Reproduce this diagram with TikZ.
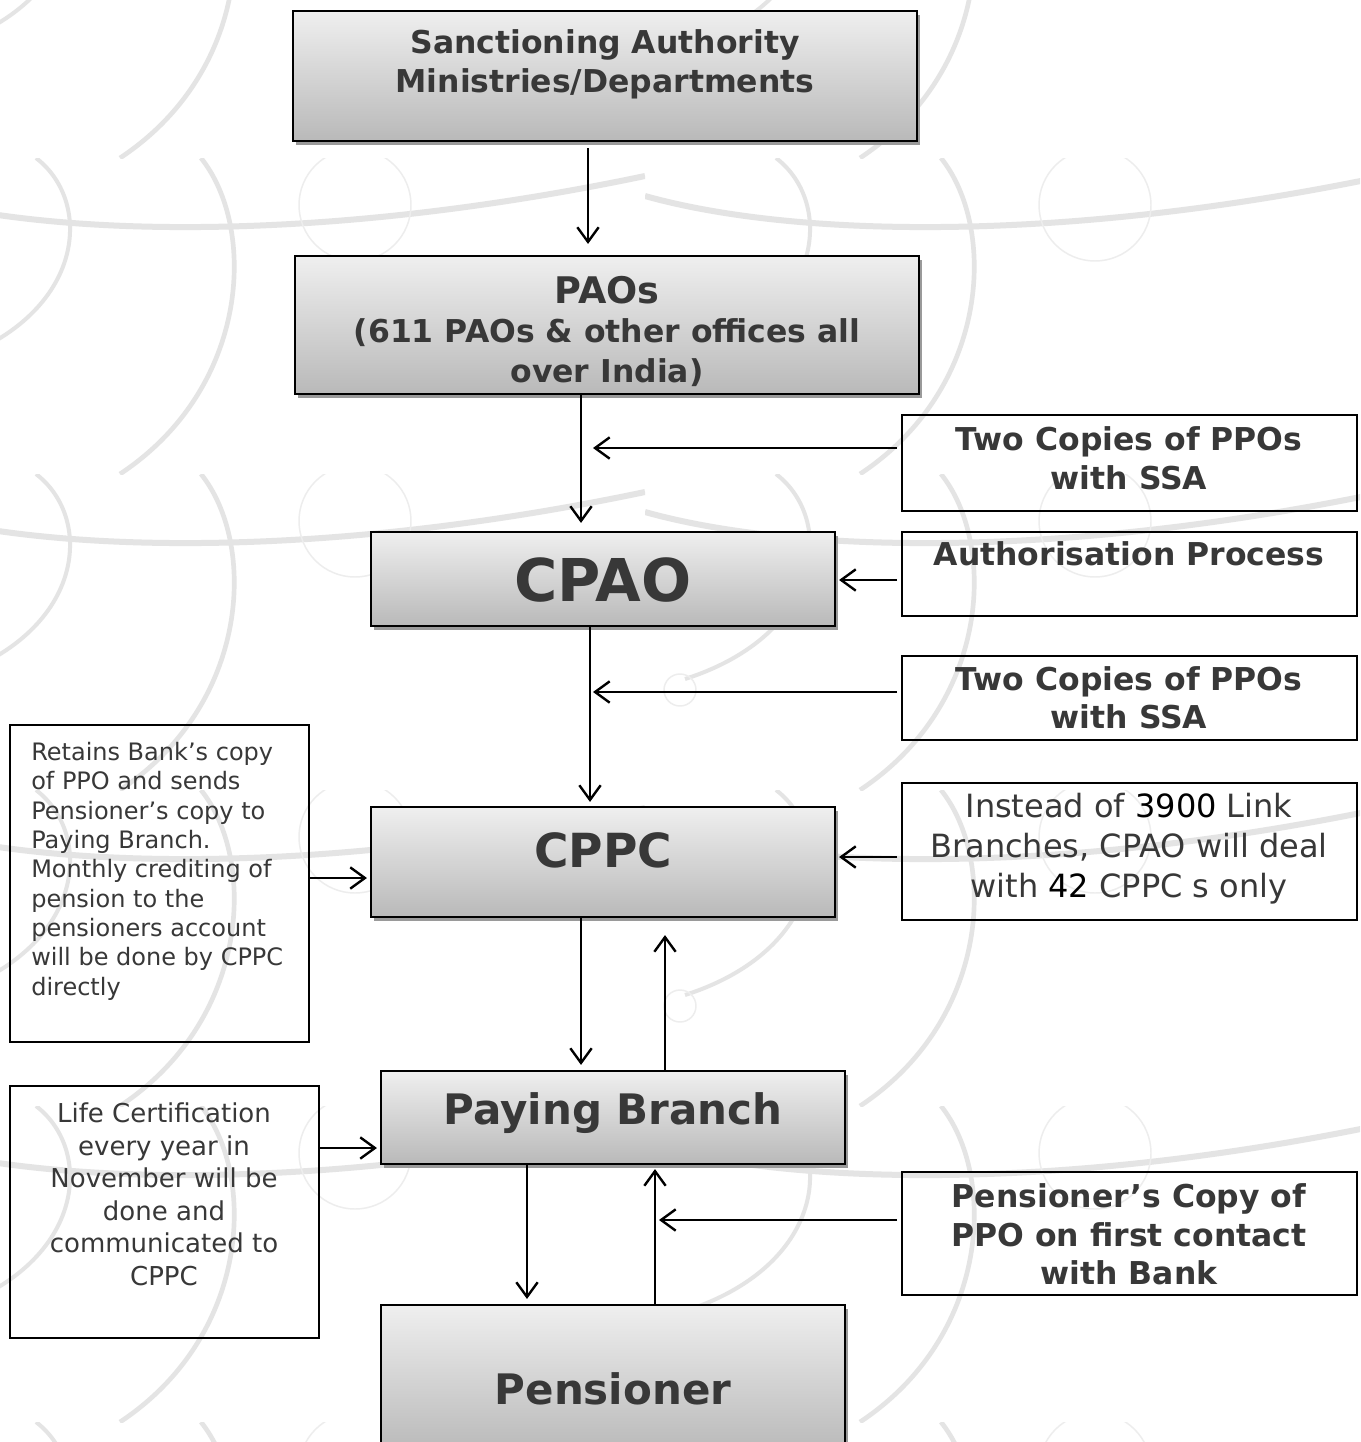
\documentclass[tikz,border=0pt]{standalone}
\usepackage{fontspec}
\setmainfont{DejaVu Sans}
\usetikzlibrary{arrows.meta,shadows,fit}
\definecolor{txt}{HTML}{383838}
\definecolor{bgl}{HTML}{E4E4E4}
\definecolor{bgs}{HTML}{EDEDED}
\definecolor{boxtop}{HTML}{EFEFEF}
\definecolor{boxbot}{HTML}{B9B9B9}
\definecolor{shad}{HTML}{9A9A9A}
\newcommand{\bgtile}{%
  \draw[bgl, line width=4.5pt] (0,38) .. controls (150,80) and (420,85) .. (740,18);
  \draw[bgl, line width=3.5pt] (296,0) .. controls (352,70) and (345,230) .. (215,316);
  \draw[bgl, line width=3pt] (131,0) .. controls (190,45) and (180,160) .. (40,205);
  \draw[bgs, line width=1.1pt] (450,47) circle[radius=56];
  \draw[bgs, line width=1.1pt] (35,216) circle[radius=16];
}
\begin{document}
\begin{tikzpicture}[x=0.75pt,y=-0.75pt,
  mainbox/.style={draw=black, line width=1.6pt, top color=boxtop, bottom color=boxbot,
    drop shadow={shadow xshift=2.4pt, shadow yshift=-3pt, fill=shad, opacity=1}, inner sep=0pt},
  sidebox/.style={draw=black, line width=1.2pt, inner sep=0pt},
  bt/.style={text=txt, inner sep=0pt},
  arr/.style={line width=1.8pt, -{Straight Barb[length=11pt,width=16pt]}},
]
\useasboundingbox (0,0) rectangle (1360,1442);
\fill[white] (0,0) rectangle (1360,1442);
% background watermark
\begin{scope}
\clip (0,0) rectangle (1360,1442);
\foreach \ox in {-95,645} {
  \foreach \oy in {-158,158,474,790,1106,1422} {
    \begin{scope}[shift={(\ox,\oy)}]
      \clip (0,0) rectangle (740,316);
      \bgtile
    \end{scope}
  }
}
\end{scope}

% main boxes
\node[mainbox, fit={(293,11) (917,141)}] (sa) {};
\node[mainbox, fit={(295,256) (919,394)}] (pao) {};
\node[mainbox, fit={(371,532) (835,626)}] (cpao) {};
\node[mainbox, fit={(371,807) (835,917)}] (cppc) {};
\node[mainbox, fit={(381,1071) (845,1164)}] (pb) {};
\node[mainbox, fit={(381,1305) (845,1452)}] (pen) {};

% side boxes
\node[sidebox, fit={(902,415) (1357,511)}] (r1) {};
\node[sidebox, fit={(902,532) (1357,616)}] (r2) {};
\node[sidebox, fit={(902,656) (1357,740)}] (r3) {};
\node[sidebox, fit={(902,783) (1357,920)}] (r4) {};
\node[sidebox, fit={(902,1172) (1357,1295)}] (r5) {};
\node[sidebox, fit={(10,725) (309,1042)}] (l1) {};
\node[sidebox, fit={(10,1086) (319,1338)}] (l2) {};

% texts
\node[bt, font=\fontsize{23.6}{29.25}\selectfont\bfseries, align=center] (sa-t) at (605,65.2)
  {\strut Sanctioning Authority\\Ministries/Departments\strut};
\node[bt, font=\fontsize{27.5}{30}\selectfont\bfseries, anchor=base] (pao-t1) at (607,303) {PAOs};
\node[bt, font=\fontsize{23.6}{30}\selectfont\bfseries, align=center] (pao-t2) at (607,354.5)
  {\strut(611 PAOs \& other offices all\\over India)\strut};
\node[bt, font=\fontsize{44.25}{50}\selectfont\bfseries, anchor=base] (cpao-t) at (603,601) {CPAO};
\node[bt, font=\fontsize{35.25}{40}\selectfont\bfseries, anchor=base] (cppc-t) at (603,867) {CPPC};
\node[bt, font=\fontsize{31.5}{36}\selectfont\bfseries, anchor=base] (pb-t) at (613,1124) {Paying Branch};
\node[bt, font=\fontsize{31.5}{36}\selectfont\bfseries, anchor=base] (pen-t) at (613,1404) {Pensioner};

\node[bt, font=\fontsize{23.6}{29.25}\selectfont\bfseries, align=center] (r1-t) at (1129,462.2)
  {\strut Two Copies of PPOs\\with SSA\strut};
\node[bt, font=\fontsize{23.6}{29.25}\selectfont\bfseries, anchor=base] (r2-t) at (1129,565.5)
  {Authorisation Process};
\node[bt, font=\fontsize{23.6}{28.5}\selectfont\bfseries, align=center] (r3-t) at (1129,701.9)
  {\strut Two Copies of PPOs\\with SSA\strut};
\node[bt, font=\fontsize{24}{30}\selectfont, align=center] (r4-t) at (1129,849.7)
  {\strut Instead of \textcolor{black}{3900} Link\\Branches, CPAO will deal\\with \textcolor{black}{42} CPPC s only\strut};
\node[bt, font=\fontsize{23.6}{28.9}\selectfont\bfseries, align=center] (r5-t) at (1129,1238.3)
  {\strut Pensioner’s Copy of\\PPO on first contact\\with Bank\strut};
\node[bt, font=\fontsize{18}{22}\selectfont, align=left, anchor=west] (l1-t) at (31,872.1)
  {\strut Retains Bank’s copy\\of PPO and sends\\Pensioner’s copy to\\Paying Branch.\\Monthly crediting of\\pension to the\\pensioners account\\will be done by CPPC\\directly\strut};
\node[bt, font=\fontsize{19.5}{24.45}\selectfont, align=center] (l2-t) at (164,1197.5)
  {\strut Life Certification\\every year in\\November will be\\done and\\communicated to\\CPPC\strut};

% helper coordinates
\coordinate (x588) at (588,0);
\coordinate (x581) at (581,0);
\coordinate (x590) at (590,0);
\coordinate (x665) at (665,0);
\coordinate (x527) at (527,0);
\coordinate (x655) at (655,0);
\coordinate (y580) at (0,580);
\coordinate (y857) at (0,857);
\coordinate (y878) at (0,878);
\coordinate (y1148) at (0,1148);
\coordinate (j1) at (593,448);
\coordinate (j2) at (593,692);
\coordinate (j3) at (659,1220);

% connectors
\draw[arr, shorten <=4.5pt, shorten >=8.25pt] (sa.south -| x588) -- (pao.north -| x588);
\draw[arr, shorten >=6pt] (pao.south -| x581) -- (cpao.north -| x581);
\draw[arr, shorten <=3pt] (r1.west |- j1) -- (j1);
\draw[arr, shorten <=3pt, shorten >=2.25pt] (r2.west |- y580) -- (cpao.east |- y580);
\draw[arr, shorten >=3pt] (cpao.south -| x590) -- (cppc.north -| x590);
\draw[arr, shorten <=3pt] (r3.west |- j2) -- (j2);
\draw[arr, shorten <=3pt, shorten >=2.25pt] (r4.west |- y857) -- (cppc.east |- y857);
\draw[arr, shorten >=2.25pt] (l1.east |- y878) -- (cppc.west |- y878);
\draw[arr, shorten >=3.75pt] (cppc.south -| x581) -- (pb.north -| x581);
\draw[arr, shorten >=12.75pt] (pb.north -| x665) -- (cppc.south -| x665);
\draw[arr, shorten >=2.25pt] (l2.east |- y1148) -- (pb.west |- y1148);
\draw[arr, shorten >=3.75pt] (pb.south -| x527) -- (pen.north -| x527);
\draw[arr, shorten >=3pt] (pen.north -| x655) -- (pb.south -| x655);
\draw[arr, shorten <=3pt] (r5.west |- j3) -- (j3);
\end{tikzpicture}
\end{document}
